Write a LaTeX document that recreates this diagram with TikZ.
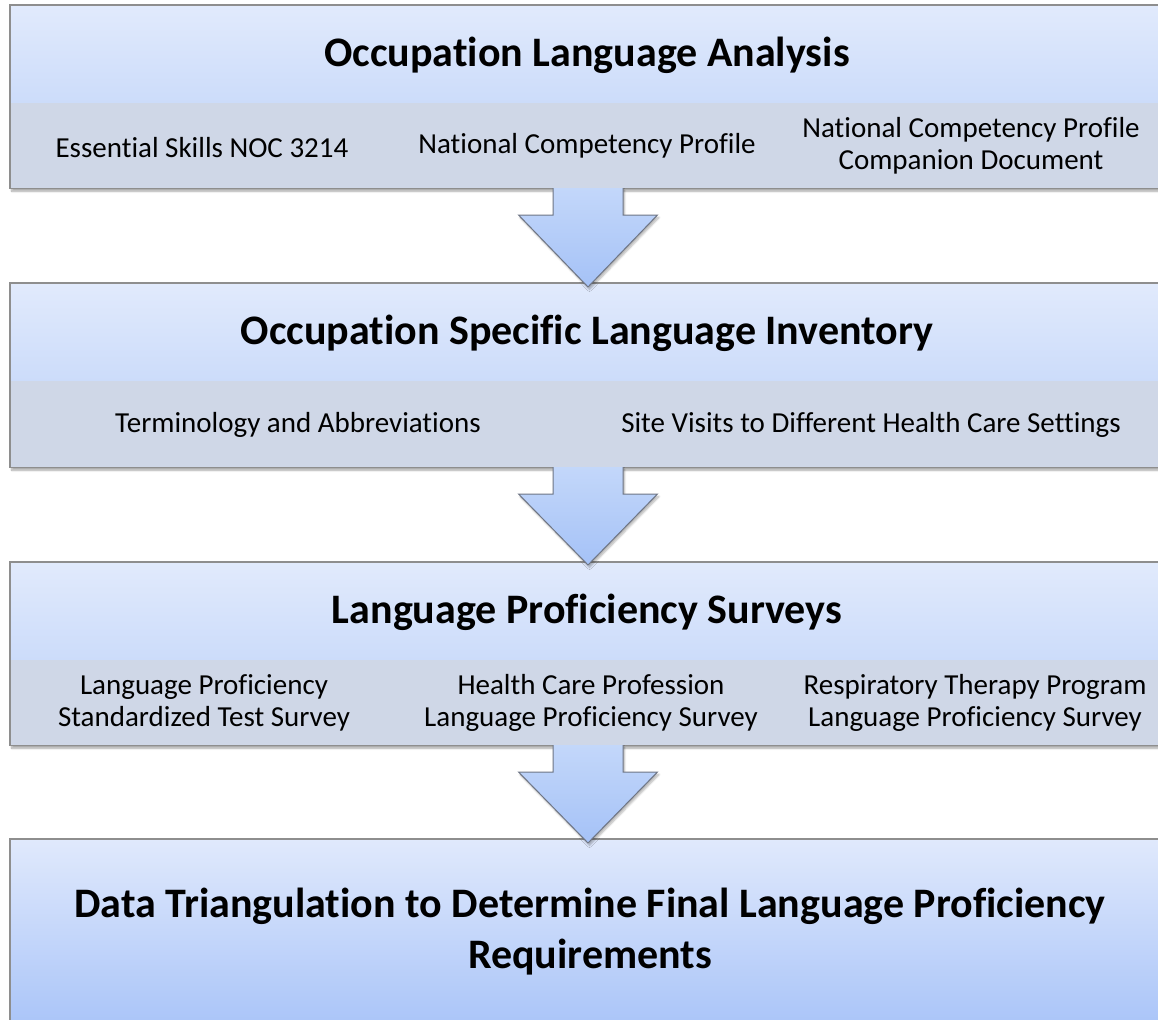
\documentclass[tikz,border=0pt]{standalone}
\usepackage{fontspec}
\setmainfont{Carlito}[RawFeature=-liga]
\usetikzlibrary{calc,shadows.blur}

\definecolor{hdrtop}{HTML}{E1EAFC}
\definecolor{hdrbot}{HTML}{CCDCFA}
\definecolor{subfill}{HTML}{CFD7E7}
\definecolor{lasttop}{HTML}{E0E9FC}
\definecolor{lastbot}{HTML}{A6C2F8}
\definecolor{frameline}{HTML}{8E8E8E}
\definecolor{arrtop}{HTML}{C3D7FA}
\definecolor{arrbot}{HTML}{A5C2F7}
\definecolor{arrline}{HTML}{6E7584}

\tikzset{
  frame/.style={anchor=north west, inner sep=0pt, fill=white,
    blur shadow={shadow xshift=1.5pt, shadow yshift=-3pt, shadow blur steps=6, shadow opacity=35}},
  border/.style={draw=frameline, line width=1.3pt},
  band/.style={anchor=north west, inner sep=0pt, minimum width=1154pt},
  hdr/.style={band, minimum height=98pt, top color=hdrtop, bottom color=hdrbot},
  subband/.style={band, fill=subfill},
  title/.style={font=\bfseries\fontsize{42}{50}\selectfont, inner sep=0pt},
  item/.style={font=\fontsize{29}{32}\selectfont, align=center, inner sep=0pt},
  arrfill/.style={top color=arrtop, bottom color=arrbot,
    blur shadow={shadow xshift=1.5pt, shadow yshift=-2.5pt, shadow blur steps=6, shadow opacity=30}},
  arrline/.style={draw=arrline, line width=1pt, line join=miter},
}

% block arrow from a shaft top (#1) to a tip (#2), head starting #3 below the shaft top
\newcommand{\blockarrow}[3]{%
  \path[arrfill] ($(#1)+(-35,0)$) -- ($(#1)+(-35,#3)$) -- ($(#1)+(-69.5,#3)$) -- (#2)
     -- ($(#1)+(69.5,#3)$) -- ($(#1)+(35,#3)$) -- ($(#1)+(35,0)$) -- cycle;
  \draw[arrline] ($(#1)+(-35,0)$) -- ($(#1)+(-35,#3)$) -- ($(#1)+(-69.5,#3)$) -- (#2)
     -- ($(#1)+(69.5,#3)$) -- ($(#1)+(35,#3)$) -- ($(#1)+(35,0)$);
}

\begin{document}
\begin{tikzpicture}[x=1pt,y=-1pt]
\useasboundingbox (0,0) rectangle (1158,1019);
\clip (0,0) rectangle (1158,1019);

% ---- stage 1
\node[frame, minimum width=1154pt, minimum height=183pt] (b1) at (10,5) {};
\node[hdr] (h1) at (10,5) {};
\node[subband, minimum height=85pt] (s1) at (10,103) {};
\draw[border] (b1.north west) rectangle (b1.south east);
\node[title] (t1) at (587,55) {Occupation Language Analysis};
\node[item] (i11) at (202,148) {Essential Skills NOC 3214};
\node[item] (i12) at (587,146) {National Competency Profile};
\node[item] (i13) at (971,146) {National Competency Profile\\Companion Document};

% ---- stage 2
\node[frame, minimum width=1154pt, minimum height=184pt] (b2) at (10,283) {};
\node[hdr] (h2) at (10,283) {};
\node[subband, minimum height=86pt] (s2) at (10,381) {};
\draw[border] (b2.north west) rectangle (b2.south east);
\node[title] (t2) at (587,333) {Occupation Specific Language Inventory};
\node[item] (i21) at (298,425) {Terminology and Abbreviations};
\node[item] (i22) at (871,425) {Site Visits to Different Health Care Settings};

% ---- stage 3
\node[frame, minimum width=1154pt, minimum height=183pt] (b3) at (10,562) {};
\node[hdr] (h3) at (10,562) {};
\node[subband, minimum height=85pt] (s3) at (10,660) {};
\draw[border] (b3.north west) rectangle (b3.south east);
\node[title] (t3) at (587,612) {Language Proficiency Surveys};
\node[item] (i31) at (204,703) {Language Proficiency\\Standardized Test Survey};
\node[item] (i32) at (591,703) {Health Care Profession\\Language Proficiency Survey};
\node[item] (i33) at (975,703) {Respiratory Therapy Program\\Language Proficiency Survey};

% ---- stage 4
\node[frame, minimum width=1154pt, minimum height=200pt, top color=lasttop, bottom color=lastbot] (b4) at (10,839) {};
\draw[border] (b4.north west) rectangle (b4.south east);
\node[font=\bfseries\fontsize{42}{51}\selectfont, align=center, inner sep=0pt] (t4) at (590,932)
  {Data Triangulation to Determine Final Language Proficiency\\Requirements};

% ---- connecting arrows
\coordinate (a1) at (588,188); \coordinate (p1) at (588,287);
\coordinate (a2) at (588,467); \coordinate (p2) at (588,565);
\coordinate (a3) at (588,745); \coordinate (p3) at (588,843);
\blockarrow{a1}{p1}{27}
\blockarrow{a2}{p2}{27}
\blockarrow{a3}{p3}{27}
\end{tikzpicture}
\end{document}
